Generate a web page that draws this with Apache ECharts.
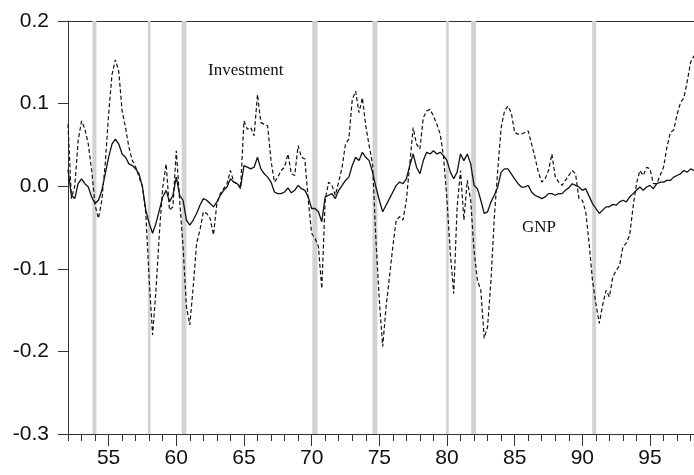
<!DOCTYPE html>
<html>
<head>
<meta charset="utf-8">
<title>GNP and Investment</title>
<script src="https://cdn.jsdelivr.net/npm/echarts@6.0.0/dist/echarts.min.js"></script>
<style>
  html, body { margin: 0; padding: 0; background: #fff; }
  #chart { width: 694px; height: 475px; }
</style>
</head>
<body>
<div id="chart"></div>
<script>
// quarterly series, first quarter is 1952:1 (years written as 52, 53, ...)
const START_YEAR = 52;

// cyclical component of GNP (solid line)
const gnp = [
  0.020, -0.011, -0.015, 0.003, 0.009, 0.003, -0.001, -0.013, -0.021, -0.017,
  -0.005, 0.015, 0.035, 0.051, 0.057, 0.051, 0.039, 0.035, 0.027, 0.025,
  0.021, 0.015, -0.001, -0.029, -0.045, -0.057, -0.045, -0.029, -0.013, -0.005,
  -0.019, -0.011, 0.011, -0.011, -0.017, -0.041, -0.047, -0.041, -0.033, -0.023,
  -0.015, -0.017, -0.021, -0.025, -0.019, -0.011, -0.005, -0.001, 0.009, 0.005,
  0.003, -0.001, 0.025, 0.023, 0.021, 0.023, 0.035, 0.021, 0.015, 0.011,
  0.005, -0.007, -0.009, -0.009, -0.007, -0.002, -0.008, -0.005, 0.001, -0.003,
  -0.005, -0.013, -0.027, -0.027, -0.031, -0.043, -0.013, -0.011, -0.009, -0.015,
  -0.005, 0.001, 0.007, 0.011, 0.025, 0.035, 0.031, 0.041, 0.035, 0.031,
  0.017, -0.001, -0.017, -0.031, -0.023, -0.015, -0.007, 0.001, 0.005, 0.003,
  0.009, 0.025, 0.039, 0.023, 0.015, 0.031, 0.041, 0.039, 0.043, 0.039,
  0.041, 0.037, 0.031, 0.017, 0.009, 0.017, 0.039, 0.031, 0.039, 0.027,
  0.001, -0.003, -0.017, -0.033, -0.031, -0.019, -0.011, -0.001, 0.017, 0.021,
  0.021, 0.015, 0.009, 0.003, -0.001, -0.001, 0.001, -0.007, -0.011, -0.013,
  -0.015, -0.013, -0.009, -0.009, -0.011, -0.009, -0.009, -0.005, -0.002, 0.003,
  0.001, -0.001, -0.005, -0.003, -0.012, -0.021, -0.027, -0.033, -0.029, -0.025,
  -0.025, -0.022, -0.023, -0.019, -0.017, -0.019, -0.013, -0.009, -0.005, -0.001,
  -0.005, -0.001, 0.001, -0.003, 0.003, 0.005, 0.005, 0.007, 0.007, 0.011,
  0.013, 0.015, 0.019, 0.017, 0.021, 0.019
];

// cyclical component of investment (dashed line)
const investment = [
  0.075, -0.015, 0.000, 0.055, 0.079, 0.069, 0.051, 0.019, -0.023, -0.039,
  -0.017, 0.027, 0.087, 0.135, 0.153, 0.139, 0.091, 0.071, 0.047, 0.031,
  0.023, 0.011, 0.000, -0.033, -0.114, -0.180, -0.126, -0.057, -0.001, 0.027,
  -0.029, -0.025, 0.043, -0.017, -0.073, -0.146, -0.168, -0.122, -0.069, -0.053,
  -0.031, -0.033, -0.039, -0.059, -0.021, -0.009, -0.003, 0.003, 0.019, 0.005,
  0.003, -0.003, 0.079, 0.069, 0.071, 0.061, 0.111, 0.077, 0.075, 0.073,
  0.031, 0.005, 0.011, 0.019, 0.023, 0.039, 0.015, 0.013, 0.049, 0.035,
  0.033, -0.017, -0.057, -0.063, -0.073, -0.124, -0.017, 0.005, 0.001, -0.011,
  0.005, 0.023, 0.051, 0.057, 0.105, 0.115, 0.089, 0.107, 0.073, 0.049,
  0.027, -0.065, -0.138, -0.194, -0.146, -0.110, -0.073, -0.041, -0.037, -0.041,
  -0.017, 0.027, 0.071, 0.051, 0.045, 0.083, 0.091, 0.093, 0.085, 0.075,
  0.063, 0.035, -0.017, -0.082, -0.130, -0.025, 0.019, -0.041, 0.007, -0.017,
  -0.078, -0.114, -0.126, -0.184, -0.170, -0.114, -0.037, 0.019, 0.071, 0.091,
  0.097, 0.089, 0.065, 0.063, 0.063, 0.065, 0.067, 0.051, 0.035, 0.017,
  0.005, 0.009, 0.019, 0.039, 0.011, 0.005, 0.001, 0.007, 0.013, 0.019,
  0.015, -0.015, -0.017, -0.031, -0.069, -0.114, -0.142, -0.166, -0.144, -0.126,
  -0.134, -0.110, -0.102, -0.096, -0.073, -0.069, -0.059, -0.025, 0.003, 0.019,
  0.013, 0.023, 0.021, 0.003, 0.003, 0.013, 0.023, 0.047, 0.065, 0.068,
  0.087, 0.101, 0.107, 0.127, 0.150, 0.158
];

// shaded recession bands [start, end] in years
const recessions = [
  [53.8, 54.1], [57.9, 58.1], [60.4, 60.75], [70.05, 70.43],
  [74.5, 74.86], [79.94, 80.13], [81.79, 82.15], [90.73, 91.02]
];

// axis ticks
const xLabelYears = [55, 60, 65, 70, 75, 80, 85, 90, 95];
const xMinorYears = [];
for (let y = 52; y <= 98; y++) xMinorYears.push(y);

const X_MIN = 52, X_MAX = 98.25;

// pair every value with its quarter
function toPoints(values) {
  return values.map((v, i) => [START_YEAR + i / 4, v]);
}

const chart = echarts.init(document.getElementById('chart'), null, { renderer: 'canvas' });

const axisColor = '#333';
const labelFont = { fontFamily: 'Liberation Sans, Arial, sans-serif', fontSize: 21, color: '#111' };

const option = {
  animation: false,
  backgroundColor: '#fff',
  grid: { left: 68, right: 0, top: 21, bottom: 41 },
  xAxis: [
    {
      // main axis with the labelled ticks
      type: 'value', min: X_MIN, max: X_MAX, position: 'bottom',
      axisLine: { show: true, onZero: false, lineStyle: { color: axisColor, width: 1 } },
      axisTick: { show: true, customValues: xLabelYears, length: 12, lineStyle: { color: axisColor } },
      axisLabel: Object.assign({ customValues: xLabelYears, margin: 14, formatter: v => String(v) }, labelFont),
      splitLine: { show: false }
    },
    {
      // yearly minor ticks
      type: 'value', min: X_MIN, max: X_MAX, position: 'bottom',
      axisLine: { show: false, onZero: false },
      axisTick: { show: true, customValues: xMinorYears, length: 7, lineStyle: { color: axisColor } },
      axisLabel: { show: false },
      splitLine: { show: false }
    },
    {
      // top frame line
      type: 'value', min: X_MIN, max: X_MAX, position: 'top',
      axisLine: { show: true, onZero: false, lineStyle: { color: axisColor, width: 1 } },
      axisTick: { show: false },
      axisLabel: { show: false },
      splitLine: { show: false }
    }
  ],
  yAxis: {
    type: 'value', min: -0.3, max: 0.2, interval: 0.1,
    axisLine: { show: true, onZero: false, lineStyle: { color: axisColor, width: 1 } },
    axisTick: { show: true, length: 10, lineStyle: { color: axisColor } },
    axisLabel: Object.assign({ margin: 19, formatter: v => v.toFixed(1) }, labelFont),
    splitLine: { show: false }
  },
  series: [
    {
      name: 'recessions', type: 'line', data: [], silent: true, z: 1,
      markArea: {
        silent: true,
        itemStyle: { color: '#d2d2d2' },
        data: recessions.map(r => [{ xAxis: r[0] }, { xAxis: r[1] }])
      }
    },
    {
      name: 'Investment', type: 'line', data: toPoints(investment),
      showSymbol: false, z: 3,
      lineStyle: { color: '#111', width: 1.2, type: [4, 2.5] }
    },
    {
      name: 'GNP', type: 'line', data: toPoints(gnp),
      showSymbol: false, z: 4,
      lineStyle: { color: '#111', width: 1.3 }
    }
  ],
  graphic: [
    {
      type: 'text', left: 208, top: 62,
      style: { text: 'Investment', font: '17px "Liberation Serif", "Times New Roman", serif', fill: '#111' }
    },
    {
      type: 'text', left: 522, top: 219,
      style: { text: 'GNP', font: '17px "Liberation Serif", "Times New Roman", serif', fill: '#111' }
    }
  ]
};

chart.setOption(option);
</script>
</body>
</html>
